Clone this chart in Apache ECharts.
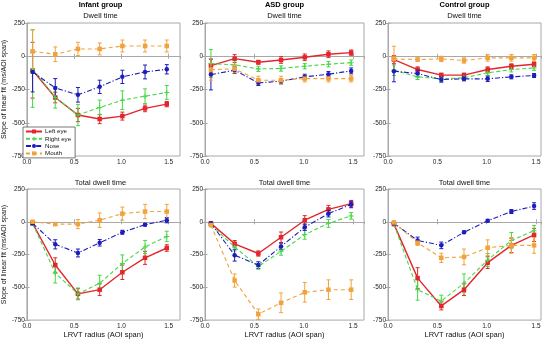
<!DOCTYPE html>
<html><head><meta charset="utf-8">
<script src="https://cdn.jsdelivr.net/npm/echarts@6/dist/echarts.min.js"></script>
<style>html,body{margin:0;padding:0;background:#fff}#c{width:547px;height:340px}</style>
</head><body><div id="c"></div>
<script>
// ---------- data ----------
const radii = [0.06, 0.30, 0.54, 0.77, 1.01, 1.25, 1.48];
const regionNames = ['Left eye', 'Right eye', 'Nose', 'Mouth'];
const groupTitles = ['Infant group', 'ASD group', 'Control group'];
const rowTitles = ['Dwell time', 'Total dwell time'];
const xTickLabels = [0.0, 0.5, 1.0, 1.5];
const yTickLabels = [-750, -500, -250, 0, 250];
const yAxisTitle = 'Slope of linear fit (ms/AOI span)';
const xAxisTitle = 'LRVT radius (AOI span)';

// Infant - dwell time
const infantDwellLeft = [-105, -310, -442, -472, -450, -392, -360];
const infantDwellLeftErr = [210, 40, 50, 35, 30, 25, 20];
const infantDwellRight = [-92, -310, -442, -385, -330, -300, -272];
const infantDwellRightErr = [292, 80, 80, 55, 70, 55, 52];
const infantDwellNose = [-118, -238, -290, -230, -155, -118, -98];
const infantDwellNoseErr = [150, 70, 55, 50, 50, 52, 35];
const infantDwellMouth = [37, 15, 55, 55, 77, 77, 77];
const infantDwellMouthErr = [160, 55, 50, 45, 45, 45, 45];

// ASD - dwell time
const asdDwellLeft = [-70, -18, -45, -28, -8, 15, 27];
const asdDwellLeftErr = [50, 30, 15, 25, 25, 25, 20];
const asdDwellRight = [-55, -65, -95, -92, -75, -60, -48];
const asdDwellRightErr = [105, 30, 20, 20, 20, 20, 20];
const asdDwellNose = [-138, -105, -200, -188, -155, -135, -110];
const asdDwellNoseErr = [115, 25, 20, 20, 20, 20, 22];
const asdDwellMouth = [-100, -95, -180, -180, -168, -168, -168];
const asdDwellMouthErr = [80, 30, 30, 30, 25, 25, 25];

// Control - dwell time
const ctrlDwellLeft = [-25, -100, -142, -142, -100, -75, -60];
const ctrlDwellLeftErr = [30, 20, 15, 15, 20, 18, 18];
const ctrlDwellRight = [-105, -155, -170, -162, -125, -100, -88];
const ctrlDwellRightErr = [40, 20, 20, 18, 20, 18, 18];
const ctrlDwellNose = [-112, -130, -175, -170, -170, -155, -145];
const ctrlDwellNoseErr = [80, 25, 20, 15, 20, 15, 15];
const ctrlDwellMouth = [-20, -25, -20, -32, -12, -12, -12];
const ctrlDwellMouthErr = [95, 12, 20, 20, 25, 25, 25];

// Infant - total dwell time
const infantTotalLeft = [-12, -330, -550, -518, -385, -275, -200];
const infantTotalLeftErr = [10, 55, 40, 45, 55, 50, 25];
const infantTotalRight = [-12, -392, -550, -468, -318, -192, -112];
const infantTotalRightErr = [10, 75, 45, 60, 65, 50, 40];
const infantTotalNose = [-12, -172, -238, -160, -80, -22, 12];
const infantTotalNoseErr = [10, 35, 30, 25, 15, 10, 20];
const infantTotalMouth = [0, -18, -18, 12, 62, 78, 78];
const infantTotalMouthErr = [10, 10, 35, 55, 50, 55, 55];

// ASD - total dwell time
const asdTotalLeft = [-12, -168, -242, -118, 12, 95, 138];
const asdTotalLeftErr = [8, 25, 20, 40, 35, 30, 25];
const asdTotalRight = [-25, -192, -342, -225, -98, -12, 45];
const asdTotalRightErr = [10, 30, 20, 30, 35, 30, 25];
const asdTotalNose = [-12, -255, -330, -188, -42, 62, 132];
const asdTotalNoseErr = [8, 45, 25, 25, 25, 25, 25];
const asdTotalMouth = [-25, -448, -705, -618, -538, -518, -518];
const asdTotalMouthErr = [10, 50, 40, 75, 75, 75, 75];

// Control - total dwell time
const ctrlTotalLeft = [-18, -430, -642, -518, -312, -180, -100];
const ctrlTotalLeftErr = [10, 80, 30, 45, 45, 55, 50];
const ctrlTotalRight = [-18, -518, -605, -468, -292, -142, -68];
const ctrlTotalRightErr = [10, 80, 45, 70, 50, 60, 40];
const ctrlTotalNose = [-12, -142, -180, -80, 8, 78, 120];
const ctrlTotalNoseErr = [8, 25, 25, 10, 10, 15, 25];
const ctrlTotalMouth = [-5, -160, -275, -268, -198, -180, -180];
const ctrlTotalMouthErr = [10, 20, 35, 60, 60, 60, 60];

// ---------- layout & style ----------
const panels = [
  {row: 0, col: 0, v: [infantDwellLeft, infantDwellRight, infantDwellNose, infantDwellMouth], e: [infantDwellLeftErr, infantDwellRightErr, infantDwellNoseErr, infantDwellMouthErr]},
  {row: 0, col: 1, v: [asdDwellLeft, asdDwellRight, asdDwellNose, asdDwellMouth], e: [asdDwellLeftErr, asdDwellRightErr, asdDwellNoseErr, asdDwellMouthErr]},
  {row: 0, col: 2, v: [ctrlDwellLeft, ctrlDwellRight, ctrlDwellNose, ctrlDwellMouth], e: [ctrlDwellLeftErr, ctrlDwellRightErr, ctrlDwellNoseErr, ctrlDwellMouthErr]},
  {row: 1, col: 0, v: [infantTotalLeft, infantTotalRight, infantTotalNose, infantTotalMouth], e: [infantTotalLeftErr, infantTotalRightErr, infantTotalNoseErr, infantTotalMouthErr]},
  {row: 1, col: 1, v: [asdTotalLeft, asdTotalRight, asdTotalNose, asdTotalMouth], e: [asdTotalLeftErr, asdTotalRightErr, asdTotalNoseErr, asdTotalMouthErr]},
  {row: 1, col: 2, v: [ctrlTotalLeft, ctrlTotalRight, ctrlTotalNose, ctrlTotalMouth], e: [ctrlTotalLeftErr, ctrlTotalRightErr, ctrlTotalNoseErr, ctrlTotalMouthErr]}
];
const cols = [{left: 21, width: 159, xmax: 1.62}, {left: 205, width: 159, xmax: 1.61}, {left: 388, width: 153, xmax: 1.55}];
const rows = [{top: 23, height: 133}, {top: 189, height: 134}];
const FONT = 'Liberation Sans';
const colors = ['#e3262c', '#45d845', '#1d1dbb', '#f2a23a'];
const lineTypes = ['solid', [4, 2.5], [5, 2, 1.2, 2], [4, 3]];
const plusPath = 'path://M2,0H3V2H5V3H3V5H2V3H0V2H2Z';
const symbols = ['rect', plusPath, 'circle', 'rect'];
const symbolSizes = [4.5, 5, 4.5, 4.5];
const AX = '#a8a8a8';

const grids = [], xAxes = [], yAxes = [], series = [];
panels.forEach((p, i) => {
  const c = cols[p.col], r = rows[p.row];
  grids.push({left: c.left, top: r.top, width: c.width, height: r.height, show: true, borderColor: AX, borderWidth: 1, containLabel: false});
});
// primary axes 0..5
panels.forEach((p, i) => {
  const c = cols[p.col];
  xAxes.push({
    type: 'value', gridIndex: i, min: 0, max: c.xmax, interval: 0.5, position: 'bottom',
    axisLine: {show: true, lineStyle: {color: AX, width: 1}},
    axisTick: {show: true, inside: true, length: 2.5, lineStyle: {color: AX}},
    splitLine: {show: false},
    axisLabel: {fontSize: 6.5, fontFamily: FONT, color: '#222', margin: 3, showMaxLabel: false,
      formatter: v => xTickLabels.some(t => Math.abs(t - v) < 1e-6) ? v.toFixed(1) : ''},
    name: p.row === 1 ? xAxisTitle : '', nameLocation: 'middle', nameGap: 10,
    nameTextStyle: {fontSize: 7.5, fontFamily: FONT, color: '#111'}
  });
  yAxes.push({
    type: 'value', gridIndex: i, min: -750, max: 250, interval: 250, position: 'left',
    axisLine: {show: true, lineStyle: {color: AX, width: 1}},
    axisTick: {show: true, inside: true, length: 2.5, lineStyle: {color: AX}},
    splitLine: {show: false},
    axisLabel: {fontSize: 6.5, fontFamily: FONT, color: '#222', margin: 2,
      formatter: v => yTickLabels.includes(v) ? String(v) : ''},
    name: p.col === 0 ? yAxisTitle : '', nameLocation: 'middle', nameGap: 13, nameRotate: 90,
    nameTextStyle: {fontSize: 7, fontFamily: FONT, color: '#111'}
  });
});
// mirror axes (top / right ticks) 6..11
panels.forEach((p, i) => {
  const c = cols[p.col];
  xAxes.push({type: 'value', gridIndex: i, min: 0, max: c.xmax, interval: 0.5, position: 'top',
    axisLine: {show: false}, axisTick: {show: true, inside: true, length: 2.5, lineStyle: {color: AX}},
    axisLabel: {show: false}, splitLine: {show: false}});
  yAxes.push({type: 'value', gridIndex: i, min: -750, max: 250, interval: 250, position: 'right',
    axisLine: {show: false}, axisTick: {show: true, inside: true, length: 2.5, lineStyle: {color: AX}},
    axisLabel: {show: false}, splitLine: {show: false}});
});

function errRender(params, api) {
  const x = api.value(0), lo = api.value(1), hi = api.value(2);
  const a = api.coord([x, hi]), b = api.coord([x, lo]);
  const st = {stroke: api.visual('color'), lineWidth: 1};
  const cw = 2;
  return {type: 'group', children: [
    {type: 'line', shape: {x1: a[0], y1: a[1], x2: b[0], y2: b[1]}, style: st},
    {type: 'line', shape: {x1: a[0] - cw, y1: a[1], x2: a[0] + cw, y2: a[1]}, style: st},
    {type: 'line', shape: {x1: b[0] - cw, y1: b[1], x2: b[0] + cw, y2: b[1]}, style: st}
  ]};
}

// draw order: mouth, nose, right eye, left eye (left eye on top)
panels.forEach((p, i) => {
  [3, 2, 1, 0].forEach(k => {
    const vals = p.v[k], errs = p.e[k];
    series.push({
      type: 'custom', name: regionNames[k] + ' err', xAxisIndex: i, yAxisIndex: i,
      renderItem: errRender, clip: true, silent: true,
      itemStyle: {color: colors[k]}, encode: {x: 0, y: [1, 2]},
      data: radii.map((x, j) => [x, vals[j] - errs[j], vals[j] + errs[j]]), z: 2 + k
    });
    series.push({
      type: 'line', name: regionNames[k], xAxisIndex: i, yAxisIndex: i,
      data: radii.map((x, j) => [x, vals[j]]),
      symbol: symbols[k], symbolSize: symbolSizes[k], showSymbol: true,
      lineStyle: {color: colors[k], width: k === 0 ? 1.4 : 1.1, type: lineTypes[k]},
      itemStyle: {color: colors[k]}, color: colors[k], animation: false, z: 3 + k
    });
  });
});

const graphics = [];
groupTitles.forEach((t, ci) => {
  const c = cols[ci];
  graphics.push({type: 'text', x: c.left + c.width / 2, y: 5,
    style: {text: t, fontSize: 7.5, fontWeight: 'bold', fontFamily: FONT, fill: '#000', align: 'center', verticalAlign: 'middle'}});
});
[16, 183].forEach((yy, ri) => {
  cols.forEach(c => {
    graphics.push({type: 'text', x: c.left + c.width / 2, y: yy,
      style: {text: rowTitles[ri], fontSize: 7.5, fontFamily: FONT, fill: '#111', align: 'center', verticalAlign: 'middle'}});
  });
});

const option = {
  animation: false,
  backgroundColor: '#fff',
  grid: grids, xAxis: xAxes, yAxis: yAxes, series: series,
  graphic: graphics,
  legend: {
    data: regionNames, orient: 'vertical', left: 23, top: 127,
    itemWidth: 16, itemHeight: 5, itemGap: 1.3, padding: [1.5, 4, 1.5, 2],
    backgroundColor: '#fff', borderColor: '#555', borderWidth: 0.8, borderRadius: 0,
    textStyle: {fontSize: 6.2, fontFamily: FONT, color: '#111', padding: [0, 0, 0, -2]},
    selectedMode: false
  }
};
const chart = echarts.init(document.getElementById('c'), null, {renderer: 'canvas'});
chart.setOption(option);
</script></body></html>
